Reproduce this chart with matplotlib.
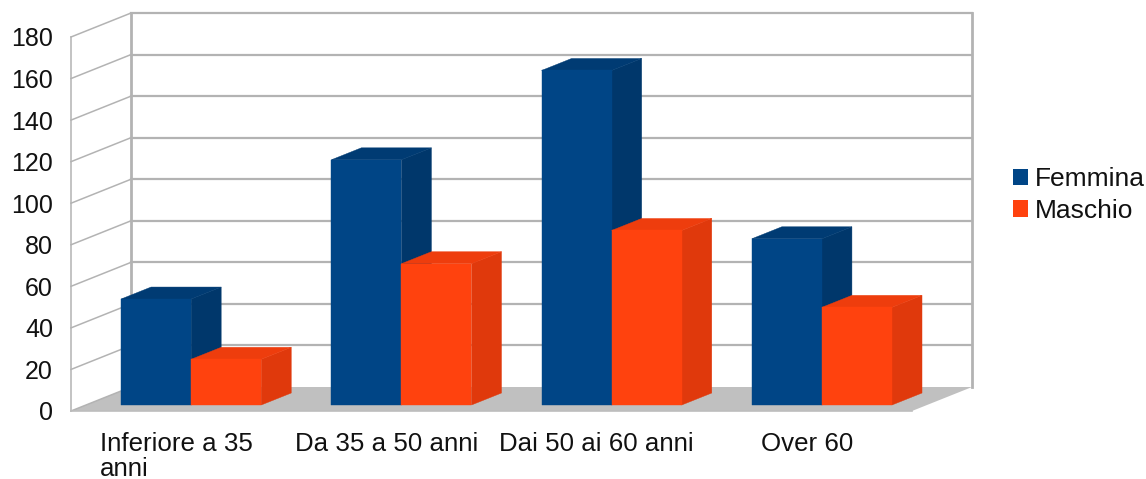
import matplotlib
matplotlib.use("Agg")
import matplotlib.pyplot as plt
from matplotlib.patches import Patch, Polygon

plt.rcParams['font.family'] = ['Liberation Sans', 'DejaVu Sans']

categories = ["Inferiore a 35\nanni", "Da 35 a 50 anni", "Dai 50 ai 60 anni", "Over 60"]
femmina = [51, 118, 161, 80]
maschio = [22, 68, 84, 47]
y_ticks = [0, 20, 40, 60, 80, 100, 120, 140, 160, 180]

# depth of the 3D box, in data units
DX = 0.2857
DY = 11.55
BAR_W = 1 / 3
GRID = '#b3b3b3'
BLUE = ('#004586', '#003b73', '#00376b')
ORANGE = ('#ff420e', '#ee3d0d', '#e0390c')


def proj(x, y, d):
    return (x + d * DX, y + d * DY)


def draw_bar(ax, x, value, colors, z):
    front, top, side = colors
    d0, d1 = 0.25, 0.75
    x1 = x + BAR_W
    faces = [
        ([proj(x1, 0, d0), proj(x1, 0, d1), proj(x1, value, d1), proj(x1, value, d0)], side),
        ([proj(x, value, d0), proj(x1, value, d0), proj(x1, value, d1), proj(x, value, d1)], top),
        ([proj(x, 0, d0), proj(x1, 0, d0), proj(x1, value, d0), proj(x, value, d0)], front),
    ]
    for pts, c in faces:
        ax.add_patch(Polygon(pts, closed=True, facecolor=c, edgecolor=c, lw=0.3,
                             zorder=z, clip_on=False))


fig = plt.figure(figsize=(11.46, 4.79), dpi=100)
ax = fig.add_axes([71 / 1146, 1 - 411 / 479, 841 / 1146, 374 / 479])
ax.set_xlim(0, 4)
ax.set_ylim(0, 180)
for s in ax.spines.values():
    s.set_visible(False)

# floor
ax.add_patch(Polygon([proj(0, 0, 0), proj(4, 0, 0), proj(4, 0, 1), proj(0, 0, 1)],
                     closed=True, facecolor='#c0c0c0', edgecolor='none', zorder=1, clip_on=False))

# walls and grid
for t in y_ticks:
    xs, ys = zip(proj(0, t, 0), proj(0, t, 1))
    ax.plot(xs, ys, color=GRID, lw=1.1, zorder=2, clip_on=False)
    if t > 0:
        xs, ys = zip(proj(0, t, 1), proj(4, t, 1))
        ax.plot(xs, ys, color=GRID, lw=1.6, zorder=2, clip_on=False)
ax.plot([0, 0], [0, 180], color=GRID, lw=1.1, zorder=2, clip_on=False)
for x in (0, 4):
    xs, ys = zip(proj(x, 0, 1), proj(x, 180, 1))
    ax.plot(xs, ys, color=GRID, lw=2, zorder=2, clip_on=False)
ax.plot([0, 4], [0, 0], color='#bdbdbd', lw=1.2, zorder=2, clip_on=False)

# bars, left to right so the orange front hides the blue side
for i in range(len(categories)):
    draw_bar(ax, i + 1 / 6, femmina[i], BLUE, 3 + i)
    draw_bar(ax, i + 1 / 6 + BAR_W, maschio[i], ORANGE, 3 + i)

ax.set_yticks(y_ticks)
ax.set_xticks([i + 0.5 for i in range(len(categories))])
ax.set_xticklabels(categories, fontsize=18.6, color='#111111', ma='left', linespacing=1.05)
ax.tick_params(axis='x', length=0, pad=15)
ax.tick_params(axis='y', length=0, pad=13, labelsize=18, labelcolor='#111111')

handles = [Patch(facecolor=BLUE[0], label='Femmina'), Patch(facecolor=ORANGE[0], label='Maschio')]
ax.legend(handles=handles, loc='upper left', bbox_to_anchor=(1013 / 1146, 1 - 167 / 479),
          bbox_transform=fig.transFigure, frameon=False, fontsize=19, borderpad=0,
          borderaxespad=0, handlelength=0.57, handleheight=0.57, handletextpad=0.27,
          labelspacing=0.3, labelcolor='#111111')

fig.savefig("out.png", dpi=100)
